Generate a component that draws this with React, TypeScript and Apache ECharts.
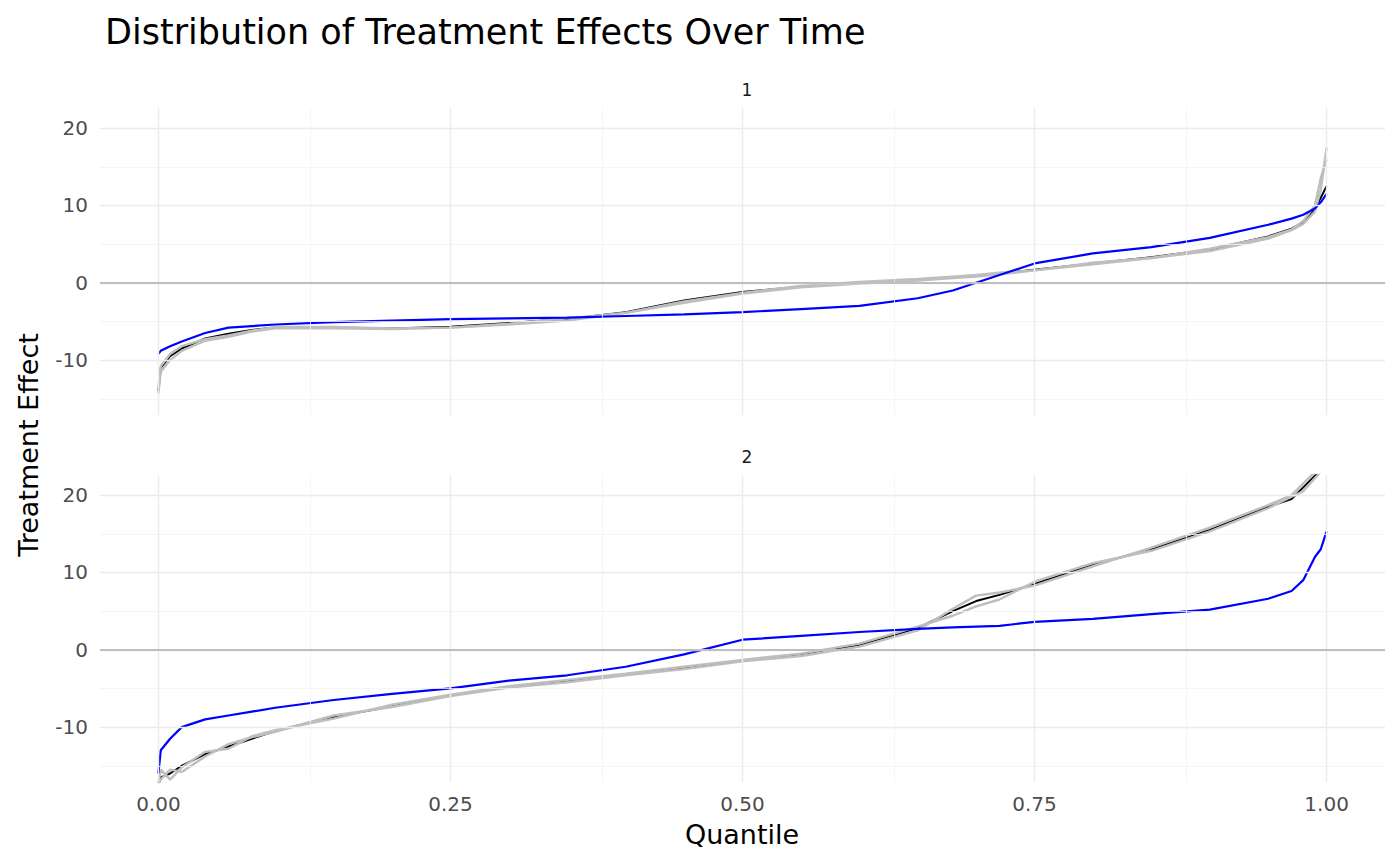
import { useEffect, useRef } from "react";
import * as echarts from "echarts";

// quantile positions shared by every curve
const quantiles = [0, 0.002, 0.01, 0.02, 0.04, 0.06, 0.08, 0.1, 0.15, 0.2, 0.25, 0.3, 0.35, 0.4, 0.45, 0.5, 0.55, 0.6, 0.65, 0.68, 0.7, 0.72, 0.75, 0.8, 0.85, 0.9, 0.95, 0.97, 0.98, 0.99, 0.995, 1];

// panel 1
const p1Blue = [-9.2, -8.8, -8.2, -7.6, -6.5, -5.8, -5.6, -5.4, -5.1, -4.9, -4.7, -4.6, -4.5, -4.3, -4.1, -3.8, -3.4, -3.0, -2.0, -1.0, 0, 1.0, 2.5, 3.8, 4.6, 5.8, 7.5, 8.3, 8.8, 9.6, 10.4, 11.5];
const p1Black = [-14, -11, -9.5, -8.5, -7.2, -6.6, -6.1, -5.8, -5.8, -5.9, -5.7, -5.2, -4.7, -3.8, -2.3, -1.2, -0.5, 0, 0.4, 0.7, 0.9, 1.2, 1.7, 2.5, 3.3, 4.3, 6, 7, 7.8, 9.5, 11, 12.5];
const p1Grey1 = [-14.3, -11.5, -10, -8.8, -7.5, -7, -6.3, -5.9, -5.9, -6, -5.8, -5.3, -4.6, -3.9, -2.6, -1.4, -0.6, -0.1, 0.3, 0.6, 0.8, 1.1, 1.6, 2.4, 3.2, 4.1, 5.7, 6.8, 7.6, 9.2, 12, 17.5];
const p1Grey2 = [-13.5, -10.8, -9.2, -8.2, -7.3, -6.8, -6.2, -5.7, -5.7, -5.9, -5.8, -5.4, -4.9, -3.9, -2.4, -1.3, -0.4, 0.1, 0.5, 0.8, 1.0, 1.3, 1.6, 2.6, 3.2, 4.4, 5.9, 6.9, 8, 10, 13.5, 16];

// panel 2
const p2Blue = [-16, -13, -11.5, -10, -9, -8.5, -8, -7.5, -6.5, -5.7, -5, -4.0, -3.3, -2.2, -0.6, 1.3, 1.8, 2.3, 2.7, 2.9, 3.0, 3.1, 3.6, 4.0, 4.6, 5.2, 6.6, 7.6, 9, 12, 13, 15.3];
const p2Black = [-17, -16.5, -16, -15, -13.5, -12.5, -11.5, -10.5, -8.7, -7.3, -5.9, -4.8, -4.0, -3.2, -2.3, -1.4, -0.6, 0.6, 2.8, 5.0, 6.3, 7.1, 8.5, 11, 13, 15.5, 18.5, 19.5, 21, 22.5, 23, 24];
const p2Grey1 = [-17.5, -16.8, -15.5, -15.8, -13.8, -12.2, -11.3, -10.6, -8.5, -7.4, -6, -4.9, -4.2, -3.3, -2.5, -1.5, -0.8, 0.4, 2.5, 5.3, 7.0, 7.4, 8.3, 10.8, 13.2, 15.8, 18.7, 20, 21.5, 23, 23, 24];
const p2Grey2 = [-17.2, -15.5, -16.8, -15.2, -13.2, -12.8, -11.2, -10.4, -8.9, -7.1, -5.8, -4.7, -3.9, -3.1, -2.2, -1.3, -0.5, 0.8, 3.0, 4.4, 5.6, 6.5, 8.8, 11.2, 12.8, 15.3, 18.3, 19.8, 20.5, 22.2, 23, 24];

const xMajor = [0, 0.25, 0.5, 0.75, 1];
const xMinor = [0.125, 0.375, 0.625, 0.875];
const yMajor = [-10, 0, 10, 20];
const yMinor = [-15, -5, 5, 15];

const FONT = "DejaVu Sans";

function pairs(vals: number[]) {
  return quantiles.map((q, i) => [q, vals[i]]);
}

function gridLines() {
  const major = { color: "#ebebeb", width: 1.4, type: "solid" };
  const minor = { color: "#f2f2f2", width: 0.8, type: "solid" };
  return {
    silent: true,
    symbol: "none",
    label: { show: false },
    animation: false,
    data: [
      ...xMinor.map((v) => ({ xAxis: v, lineStyle: minor })),
      ...yMinor.map((v) => ({ yAxis: v, lineStyle: minor })),
      ...xMajor.map((v) => ({ xAxis: v, lineStyle: major })),
      ...yMajor.map((v) => ({ yAxis: v, lineStyle: major })),
      { yAxis: 0, lineStyle: { color: "#bebebe", width: 2.2, type: "solid" } },
    ],
  };
}

function panelSeries(idx: number, black: number[], g1: number[], g2: number[], blue: number[]) {
  const base = { type: "line", xAxisIndex: idx, yAxisIndex: idx, showSymbol: false, symbol: "none", silent: true, clip: true, z: 3 };
  return [
    { ...base, data: pairs(black), lineStyle: { color: "#000000", width: 2 }, markLine: gridLines(), z: 2 },
    { ...base, data: pairs(g1), lineStyle: { color: "#bebebe", width: 2.4 } },
    { ...base, data: pairs(g2), lineStyle: { color: "#bebebe", width: 2.4 } },
    { ...base, data: pairs(blue), lineStyle: { color: "#0000ff", width: 2.2 }, z: 4 },
  ];
}

export default function App() {
  const chartRef = useRef<HTMLDivElement>(null);

  useEffect(() => {
    document.body.style.margin = "0";
    if (!chartRef.current) return;
    const chart = echarts.init(chartRef.current, null, { renderer: "svg" });

    const xAxisBase = {
      type: "value",
      min: -0.05,
      max: 1.05,
      axisLine: { show: false },
      axisTick: { show: false },
      splitLine: { show: false },
    };
    const yAxisBase = {
      type: "value",
      min: -17.1,
      max: 22.6,
      axisLine: { show: false },
      axisTick: { show: false },
      splitLine: { show: false },
      axisLabel: { customValues: yMajor, color: "#4d4d4d", fontSize: 20, fontFamily: FONT, margin: 12 },
    };

    chart.setOption({
      animation: false,
      backgroundColor: "#ffffff",
      title: [
        { text: "Distribution of Treatment Effects Over Time", left: 100, top: 9, textStyle: { fontFamily: FONT, fontSize: 35, fontWeight: "normal", color: "#000" } },
        { text: "1", left: 742, top: 76, textAlign: "center", textStyle: { fontFamily: FONT, fontSize: 17, fontWeight: "normal", color: "#1a1a1a" } },
        { text: "2", left: 742, top: 443, textAlign: "center", textStyle: { fontFamily: FONT, fontSize: 17, fontWeight: "normal", color: "#1a1a1a" } },
      ],
      graphic: [
        { type: "text", x: 28, y: 445, rotation: Math.PI / 2, style: { text: "Treatment Effect", fontFamily: FONT, fontSize: 27, fill: "#000", align: "center", verticalAlign: "middle" } },
        { type: "text", x: 742, y: 834, style: { text: "Quantile", fontFamily: FONT, fontSize: 27, fill: "#000", align: "center", verticalAlign: "middle" } },
      ],
      grid: [
        { left: 100, width: 1285, top: 108, height: 307 },
        { left: 100, width: 1285, top: 475, height: 307 },
      ],
      xAxis: [
        { ...xAxisBase, gridIndex: 0, axisLabel: { show: false } },
        { ...xAxisBase, gridIndex: 1, axisLabel: { customValues: xMajor, color: "#4d4d4d", fontSize: 20, fontFamily: FONT, margin: 12, formatter: (v: number) => v.toFixed(2) } },
      ],
      yAxis: [
        { ...yAxisBase, gridIndex: 0 },
        { ...yAxisBase, gridIndex: 1 },
      ],
      series: [
        ...panelSeries(0, p1Black, p1Grey1, p1Grey2, p1Blue),
        ...panelSeries(1, p2Black, p2Grey1, p2Grey2, p2Blue),
      ],
    });

    return () => chart.dispose();
  }, []);

  return <div ref={chartRef} style={{ width: 1400, height: 866 }} />;
}
